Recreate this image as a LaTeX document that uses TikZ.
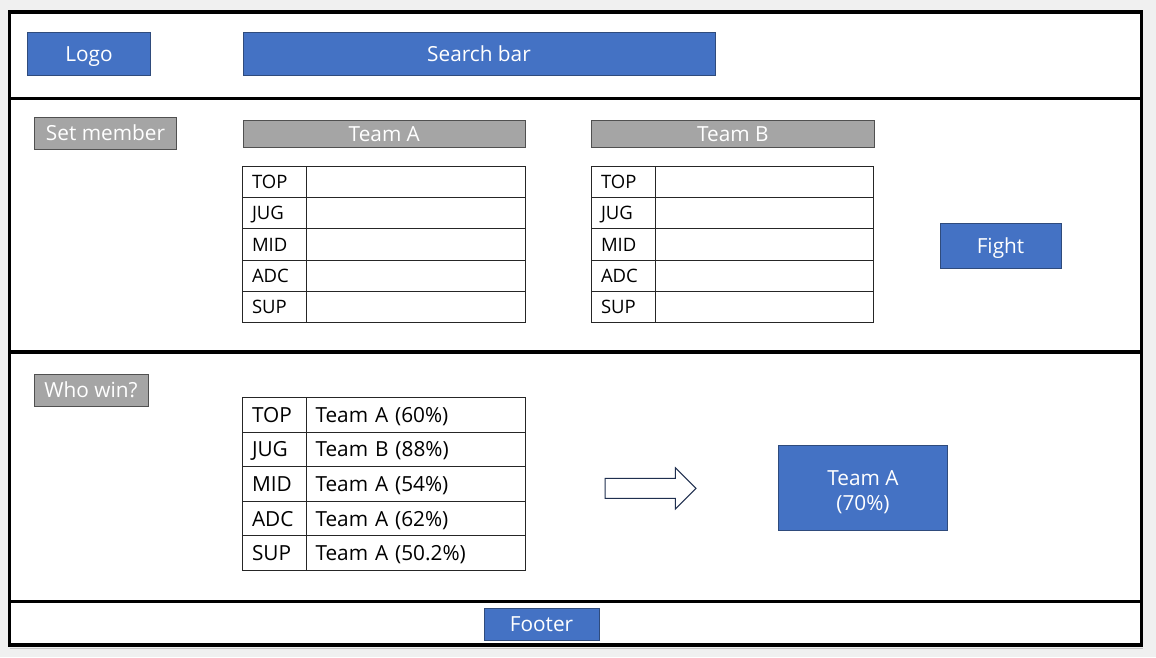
\documentclass[tikz,border=0pt]{standalone}
\usepackage{fontspec}
\setmainfont{Open Sans}
\definecolor{bgc}{HTML}{F0F0F0}
\definecolor{bluef}{HTML}{4472C4}
\definecolor{blued}{HTML}{2F4B7C}
\definecolor{grayf}{HTML}{A5A5A5}
\definecolor{grayd}{HTML}{505050}
\definecolor{arrowd}{HTML}{1F2F4F}
\newcommand{\lowerby}[1]{\raisebox{-4pt}[\height][\depth]{#1}}
\begin{document}
\begin{tikzpicture}[x=1pt,y=-1pt,
  bigfont/.style={font=\fontsize{20.8}{25}\selectfont, text height=14.9pt, text depth=0pt},
  bluebox/.style={draw=blued, line width=1pt, fill=bluef, text=white, inner sep=0pt, outer sep=0pt, bigfont},
  graybox/.style={draw=grayd, line width=1pt, fill=grayf, text=white, inner sep=0pt, outer sep=0pt, bigfont},
  cellA/.style={draw=black!85, line width=0.9pt, fill=white, inner sep=0pt, outer sep=0pt, anchor=north west, align=left},
  smallfont/.style={font=\fontsize{18.5}{22}\selectfont, text height=13.2pt, text depth=0pt},
  frameline/.style={line width=3.6pt, black}
]
\useasboundingbox (0,0) rectangle (1156,657);
\fill[bgc] (0,0) rectangle (1156,657);
% shadow
\draw[line width=1.5pt, black!22] (9.5,648.5) -- (1143,648.5);
\fill[white] (9.3,12) rectangle (1141.3,644.7);
% frame
\draw[frameline] (9.3,12) rectangle (1141.3,644.7);
\draw[frameline] (9.3,98.3) -- (1141.3,98.3);
\draw[frameline] (9.3,352) -- (1141.3,352);
\draw[frameline] (9.3,601.3) -- (1141.3,601.3);

% header
\node[bluebox, minimum width=123pt, minimum height=43pt] (logo) at (89,54) {Logo};
\node[bluebox, minimum width=472pt, minimum height=43pt] (search) at (479,54) {Search bar};

% set member section
\node[graybox, minimum width=142pt, minimum height=32pt] (setm) at (105.5,133.3) {Set member};
\node[graybox, minimum width=282pt, minimum height=27pt] (hA) at (384.3,133.6) {Team A};
\node[graybox, minimum width=283pt, minimum height=27pt] (hB) at (732.8,133.6) {Team B};

\foreach \r/\lab [count=\i from 0] in {top/TOP, jug/JUG, mid/MID, adc/ADC, sup/SUP}{
  \node[cellA, smallfont, minimum width=63.5pt, minimum height=31.2pt, text width=63.5pt] (a\r L) at (242.5,{166.5+31.2*\i}) {\hspace*{9.5pt}\lab};
  \node[cellA, minimum width=219pt, minimum height=31.2pt] (a\r V) at (306,{166.5+31.2*\i}) {};
  \node[cellA, smallfont, minimum width=63.5pt, minimum height=31.2pt, text width=63.5pt] (b\r L) at (591.5,{166.5+31.2*\i}) {\hspace*{9.5pt}\lab};
  \node[cellA, minimum width=218.5pt, minimum height=31.2pt] (b\r V) at (655,{166.5+31.2*\i}) {};
}
\node[bluebox, minimum width=121pt, minimum height=45pt] (fight) at (1000.5,245.8) {Fight};

% who win section
\node[graybox, minimum width=114pt, minimum height=32pt] (who) at (91,390) {Who win?};
\foreach \r/\lab/\res [count=\i from 0] in {top/TOP/Team A (60\%), jug/JUG/Team B (88\%), mid/MID/Team A (54\%), adc/ADC/Team A (62\%), sup/SUP/Team A (50.2\%)}{
  \node[cellA, bigfont, minimum width=63.5pt, minimum height=34.6pt, text width=63.5pt] (w\r L) at (242.5,{397.5+34.6*\i}) {\hspace*{9.5pt}\lab};
  \node[cellA, bigfont, minimum width=219pt, minimum height=34.6pt, text width=219pt] (w\r V) at (306,{397.5+34.6*\i}) {\hspace*{9.5pt}\res};
}
% block arrow
\draw[draw=arrowd, line width=1pt, fill=white] (605,478.3) -- (675.3,478.3) -- (675.3,467.7) -- (696,488.3) -- (675.3,509) -- (675.3,498.3) -- (605,498.3) -- cycle;
\node[draw=blued, line width=1pt, fill=bluef, text=white, inner sep=0pt, outer sep=0pt, font=\fontsize{20.8}{25}\selectfont, minimum width=169.5pt, minimum height=84.5pt, align=center] (res) at (863,488.2) {\lowerby{Team A}\\\lowerby{(70\%)}};

% footer
\node[bluebox, minimum width=115pt, minimum height=32.5pt] (footer) at (541.5,624.5) {Footer};
\end{tikzpicture}
\end{document}
